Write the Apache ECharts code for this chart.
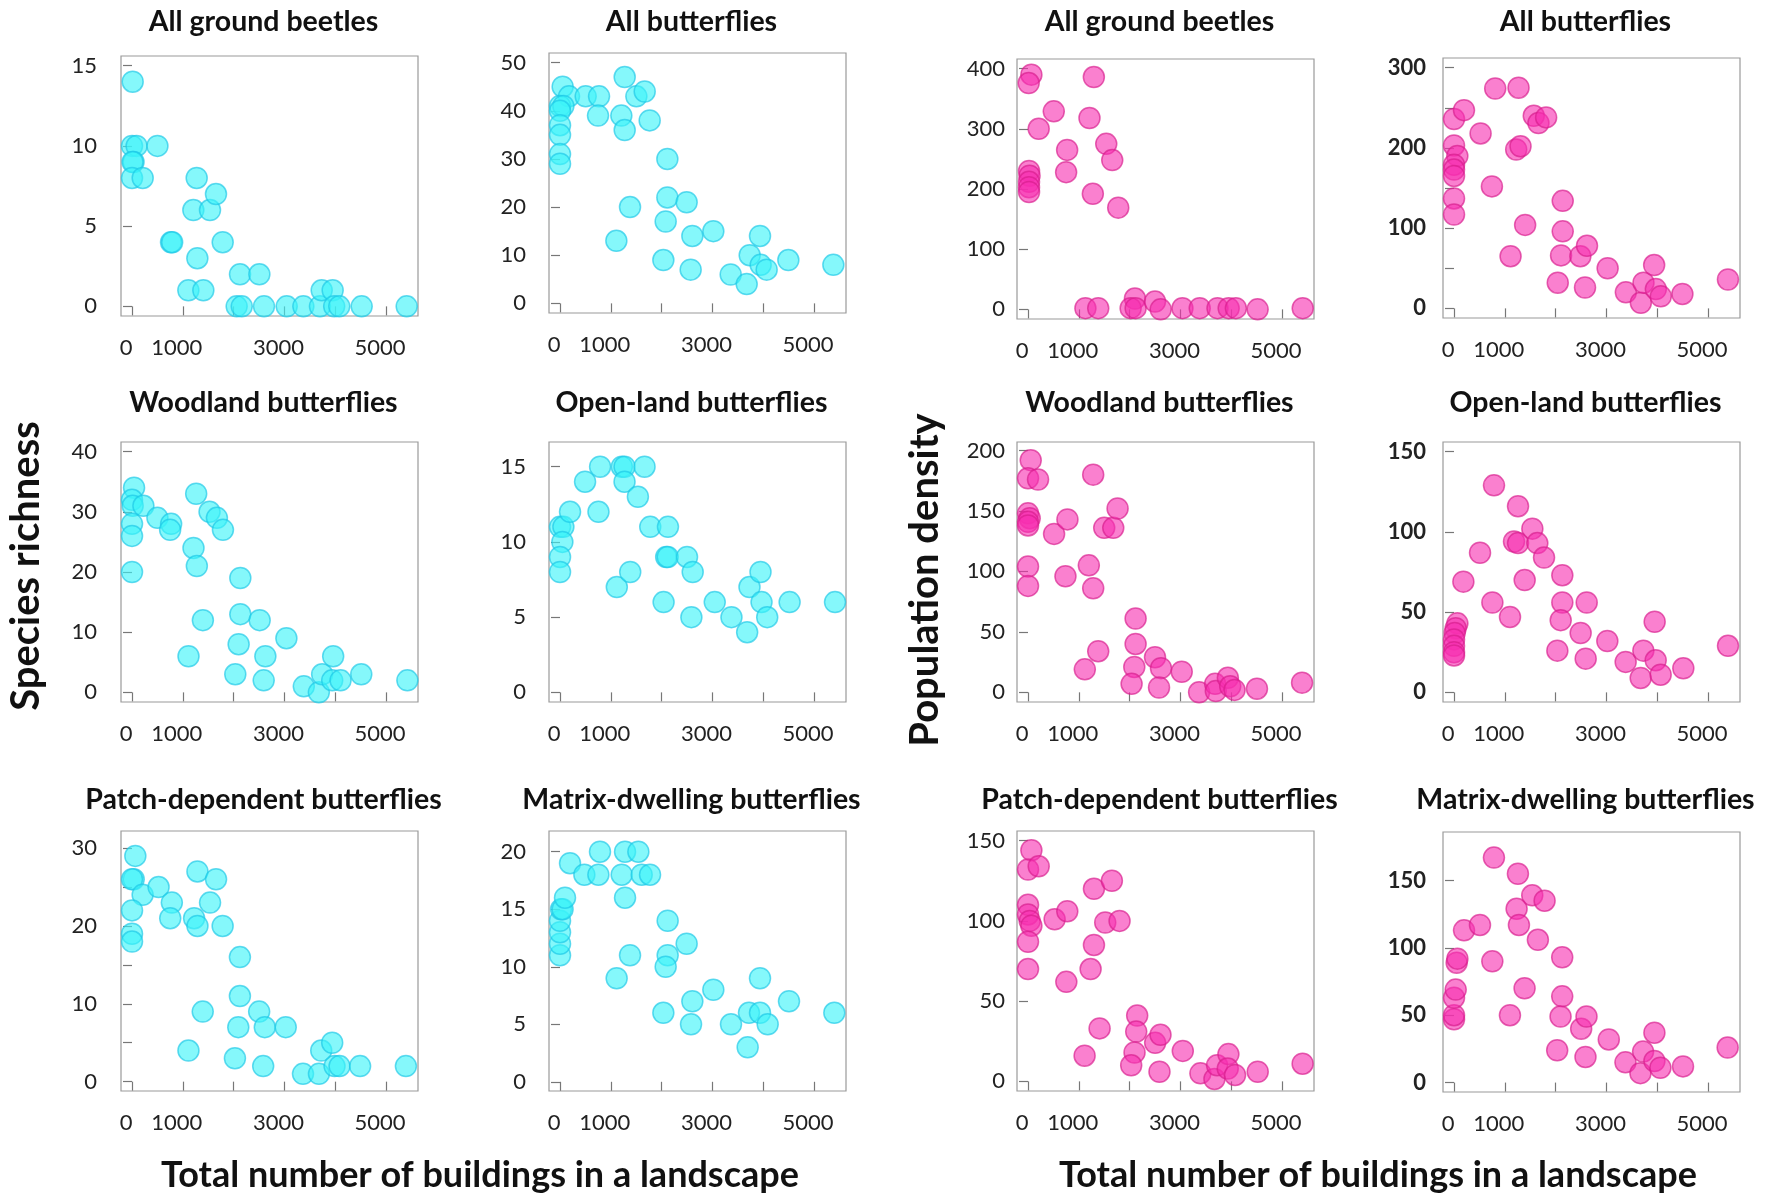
<!DOCTYPE html>
<html><head><meta charset="utf-8">
<script src="https://cdn.jsdelivr.net/npm/echarts@6/dist/echarts.min.js"></script>
<style>html,body{margin:0;padding:0;background:#fff}#c{width:1775px;height:1198px}</style>
</head><body><div id="c"></div>
<script>
// ---------- data ----------
const xTicks = [0, 1000, 2000, 3000, 4000, 5000];
const xLabels = [0, 1000, 3000, 5000];
const xLabelLeft = 'Total number of buildings in a landscape';
const yLabelLeft = 'Species richness';
const yLabelRight = 'Population density';

const panelTitles = [
  'All ground beetles', 'All butterflies', 'All ground beetles', 'All butterflies',
  'Woodland butterflies', 'Open-land butterflies', 'Woodland butterflies', 'Open-land butterflies',
  'Patch-dependent butterflies', 'Matrix-dwelling butterflies', 'Patch-dependent butterflies', 'Matrix-dwelling butterflies'
];

const richAllBeetles = [[13,14],[0,10],[90,10],[500,10],[30,9],[10,9],[0,8],[210,8],[1273,8],[1207,6],[1535,6],[1653,7],[768,4],[790,4],[1785,4],[1286,3],[1109,1],[1404,1],[2126,2],[2507,2],[2060,0],[2160,0],[2598,0],[3045,0],[3373,0],[3700,0],[3734,1],[3950,1],[3980,0],[4080,0],[4521,0],[5407,0]];
const richAllButterflies = [[52,45],[177,43],[0,41],[66,41],[0,40],[0,37],[0,35],[0,31],[0,29],[505,43],[768,43],[748,39],[1273,47],[1207,39],[1273,36],[1503,43],[1667,44],[1765,38],[2113,30],[2113,22],[2080,17],[2034,9],[1109,13],[1378,20],[2493,21],[2605,14],[2572,7],[3018,15],[3360,6],[3734,10],[3675,4],[3937,14],[3950,8],[4068,7],[4495,9],[5381,8]];
const densAllBeetles = [[66,390],[13,376],[210,300],[507,329],[20,230],[30,222],[20,212],[20,203],[20,195],[770,265],[750,228],[1296,386],[1210,318],[1540,275],[1658,248],[1276,192],[1776,169],[1130,2],[1382,2],[2105,18],[2020,2],[2118,2],[2500,13],[2612,0],[3040,2],[3380,2],[3730,2],[3950,2],[4092,2],[4520,0],[5408,2]];
const densAllButterflies = [[0,236],[196,247],[0,203],[65,190],[0,179],[0,173],[0,165],[0,137],[0,117],[523,218],[811,274],[746,152],[1270,275],[1570,240],[1662,231],[1813,238],[1224,198],[1309,202],[1400,104],[1113,65],[2140,134],[2140,96],[2107,66],[2042,32],[2487,65],[2618,78],[2579,26],[3024,50],[3383,20],[3678,7],[3730,32],[3940,54],[3973,24],[4071,15],[4496,18],[5393,36]];
const richWoodland = [[40,34],[0,32],[13,31],[224,31],[0,28],[0,26],[0,20],[500,29],[770,28],[750,27],[1263,33],[1526,30],[1671,29],[1790,27],[1210,24],[1276,21],[1395,12],[1112,6],[2132,19],[2132,13],[2099,8],[2033,3],[2513,12],[2625,6],[2592,2],[3039,9],[3382,1],[3678,0],[3743,3],[3960,6],[3941,2],[4105,2],[4513,3],[5421,2]];
const richOpenland = [[0,11],[66,11],[46,10],[0,9],[0,8],[197,12],[493,14],[789,15],[757,12],[1217,15],[1270,15],[1270,14],[1664,15],[1533,13],[1776,11],[2125,11],[2090,9],[2120,9],[2500,9],[2612,8],[1118,7],[1382,8],[2039,6],[2586,5],[3046,6],[3375,5],[3684,4],[3730,7],[3947,8],[3967,6],[4079,5],[4520,6],[5414,6]];
const densWoodland = [[53,192],[0,177],[197,176],[0,148],[33,144],[0,141],[0,138],[0,104],[0,88],[513,131],[776,143],[737,96],[1283,180],[1197,105],[1283,86],[1500,136],[1678,136],[1763,152],[1382,34],[1118,19],[2118,61],[2118,40],[2092,21],[2039,7],[2500,29],[2618,20],[2579,4],[3026,17],[3368,0],[3684,7],[3697,1],[3934,12],[3980,5],[4066,2],[4507,3],[5395,8]];
const densOpenland = [[66,43],[33,40],[13,37],[0,33],[0,29],[0,25],[0,23],[184,69],[512,87],[787,129],[755,56],[1260,116],[1181,94],[1260,93],[1542,102],[1640,93],[1772,84],[1391,70],[1102,47],[2132,73],[2132,56],[2100,45],[2034,26],[2493,37],[2612,56],[2592,21],[3018,32],[3379,19],[3675,9],[3727,26],[3950,44],[3970,20],[4068,11],[4514,15],[5394,29]];
const richPatch = [[65,29],[33,26],[0,26],[209,24],[0,22],[0,19],[0,18],[523,25],[784,23],[752,21],[1288,27],[1222,21],[1288,20],[1654,26],[1536,23],[1784,20],[1111,4],[1392,9],[2124,16],[2124,11],[2092,7],[2026,3],[2503,9],[2614,7],[2582,2],[3026,7],[3366,1],[3680,1],[3725,4],[3941,5],[3987,2],[4085,2],[4490,2],[5392,2]];
const richMatrix = [[0,11],[0,12],[0,13],[0,14],[20,15],[50,15],[98,16],[197,19],[479,18],[755,18],[787,20],[1280,20],[1542,20],[1214,18],[1280,16],[1608,18],[1772,18],[1115,9],[1378,11],[2119,14],[2119,11],[2080,10],[2034,6],[2493,12],[2605,7],[2579,5],[3018,8],[3366,5],[3694,3],[3720,6],[3937,9],[3937,6],[4088,5],[4508,7],[5400,6]];
const densPatch = [[66,144],[0,132],[210,134],[0,110],[0,104],[33,100],[66,97],[0,87],[0,70],[524,101],[773,106],[754,62],[1298,120],[1651,125],[1520,99],[1802,100],[1298,85],[1232,70],[1409,33],[1114,16],[2149,41],[2130,31],[2097,18],[2031,10],[2503,24],[2608,29],[2588,6],[3047,19],[3394,5],[3670,1.5],[3722,10],[3945,17],[3932,8],[4076,4],[4522,6],[5406,11]];
const densMatrix = [[0,47],[0,50],[0,63],[33,69],[52,89],[66,92],[197,113],[511,117],[754,90],[786,167],[1258,155],[1232,129],[1278,117],[1540,139],[1783,135],[1651,106],[1389,70],[1101,50],[2130,93],[2130,64],[2097,49],[2031,24],[2503,40],[2608,49],[2588,19],[3047,32],[3375,15],[3670,7],[3722,23],[3945,37],[3945,16],[4063,11],[4508,12],[5387,26]];

const panelData = [
  richAllBeetles, richAllButterflies, densAllBeetles, densAllButterflies,
  richWoodland, richOpenland, densWoodland, densOpenland,
  richPatch, richMatrix, densPatch, densMatrix
];
const yTickSets = [
  [0,5,10,15], [0,10,20,30,40,50], [0,100,200,300,400], [0,50,100,150,200,250,300],
  [0,10,20,30,40], [0,5,10,15], [0,50,100,150,200], [0,50,100,150],
  [0,5,10,15,20,25,30], [0,5,10,15,20], [0,50,100,150], [0,50,100,150]
];
const yLabelSets = [
  [0,5,10,15], [0,10,20,30,40,50], [0,100,200,300,400], [0,100,200,300],
  [0,10,20,30,40], [0,5,10,15], [0,50,100,150,200], [0,50,100,150],
  [0,10,20,30], [0,5,10,15,20], [0,50,100,150], [0,50,100,150]
];

// ---------- layout / style ----------
const yRanges = [
  [-0.6,15.6],[-2,52],[-16,416],[-12,312],
  [-1.6,41.6],[-0.64,16.64],[-8,207],[-6,156],
  [-1.2,32.2],[-0.8,21.8],[-6,156],[-7,186]
];
const xRange = [-217, 5630];
const colLeft = [121, 549, 1017, 1443];
const rowTops = [[56,53,59,58],[442,442,442,442],[831,831,831,832]];
const boxW = 297, boxH = 260;
const yLabelMargin = [24, 23, 12, 17];
const titleY = [22, 403, 800];
const FONT = 'Lato, "Open Sans", sans-serif';
const cyan = {color:'rgba(60,243,248,0.78)', borderColor:'rgba(30,200,230,0.85)', borderWidth:1.5};
const pink = {color:'rgba(247,46,176,0.76)', borderColor:'rgba(215,30,140,0.85)', borderWidth:1.5};

const grids = [], xAxes = [], yAxes = [], series = [], graphics = [];
for (let i = 0; i < 12; i++) {
  const r = Math.floor(i / 4), c = i % 4;
  const left = colLeft[c], top = rowTops[r][c];
  grids.push({left, top, width: boxW, height: boxH, show: true, borderColor: '#9a9a9a', borderWidth: 1.2, backgroundColor: 'transparent'});
  xAxes.push({
    type: 'value', gridIndex: i, min: xRange[0], max: xRange[1],
    axisLine: {show: false}, splitLine: {show: false},
    axisTick: {show: true, length: 9, customValues: xTicks, lineStyle: {color: '#777', width: 1.2}},
    axisLabel: {customValues: xLabels, margin: 21, fontSize: 22, fontFamily: FONT, color: '#222',
      padding: [0, 12, 0, 0], formatter: v => String(v)}
  });
  yAxes.push({
    type: 'value', gridIndex: i, min: yRanges[i][0], max: yRanges[i][1],
    axisLine: {show: false}, splitLine: {show: false},
    axisTick: {show: true, length: 9, customValues: yTickSets[i], lineStyle: {color: '#777', width: 1.2}},
    axisLabel: {customValues: yLabelSets[i], margin: yLabelMargin[c], fontSize: 22, fontFamily: FONT,
      color: '#222', fontWeight: c === 3 ? 'bold' : 'normal', formatter: v => String(v)}
  });
  series.push({
    type: 'scatter', xAxisIndex: i, yAxisIndex: i, data: panelData[i],
    symbol: 'circle', symbolSize: 21, itemStyle: c < 2 ? cyan : pink, silent: true
  });
  graphics.push({
    type: 'text', x: left + boxW / 2 - 6, y: titleY[r],
    style: {text: panelTitles[i], fill: '#111', font: 'bold 28.5px ' + FONT, align: 'center', verticalAlign: 'middle'}
  });
}
graphics.push({type:'text', x: 480, y: 1175, style:{text: xLabelLeft, fill:'#111', font:'bold 36px ' + FONT, align:'center', verticalAlign:'middle'}});
graphics.push({type:'text', x: 1378, y: 1175, style:{text: xLabelLeft, fill:'#111', font:'bold 36px ' + FONT, align:'center', verticalAlign:'middle'}});
graphics.push({type:'text', x: 26, y: 566, rotation: Math.PI / 2, style:{text: yLabelLeft, fill:'#111', font:'bold 40px ' + FONT, align:'center', verticalAlign:'middle'}});
graphics.push({type:'text', x: 925, y: 580, rotation: Math.PI / 2, style:{text: yLabelRight, fill:'#111', font:'bold 40px ' + FONT, align:'center', verticalAlign:'middle'}});

const chart = echarts.init(document.getElementById('c'), null, {renderer: 'canvas'});
chart.setOption({
  backgroundColor: '#fff', animation: false,
  grid: grids, xAxis: xAxes, yAxis: yAxes, series, graphic: graphics
});
</script></body></html>
